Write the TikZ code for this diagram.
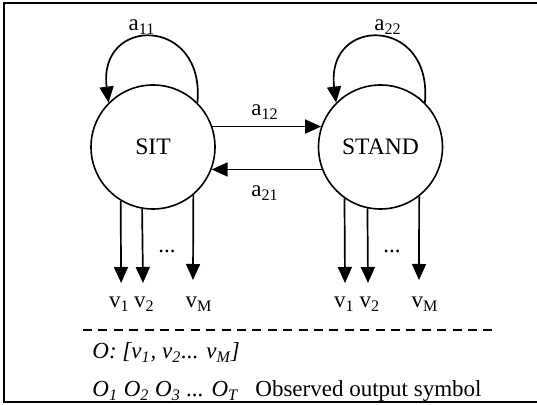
\documentclass[tikz,border=0pt]{standalone}
\usepackage{fontspec}
\setmainfont{Liberation Serif}
\usetikzlibrary{arrows.meta}
\begin{document}
\begin{tikzpicture}[x=0.5pt,y=-0.5pt,
  state/.style={circle,draw,line width=0.8pt,minimum size=62pt,inner sep=0pt,font=\fontsize{11.8}{13}\selectfont},
  lbl/.style={font=\fontsize{11.5}{13}\selectfont,inner sep=0pt},
  arr/.style={line width=0.85pt,-{Triangle[length=8pt,width=7pt]}},
  frame/.style={line width=1pt},
  sep/.style={line width=0.65pt,dash pattern=on 4.5pt off 3.2pt}]
\useasboundingbox (0,0) rectangle (537,405);
\draw[frame] (540,3) -- (4,3) -- (4,402) -- (540,402);

\node[state] (sit) at (153,147) {SIT};
\node[state] (stand) at (380.5,147) {STAND};

% self loops
\draw[arr] (sit.45) .. controls +(8,-87) and +(-11,-87) .. (sit.135);
\draw[arr] (stand.45) .. controls +(8,-87) and +(-11,-87) .. (stand.135);
\node[lbl] (a11) at (142,27) {a\textsubscript{11}};
\node[lbl] (a22) at (388,27) {a\textsubscript{22}};

% transitions
\draw[arr] (sit.19) -- (stand.161);
\draw[arr] (stand.201) -- (sit.339);
\node[lbl] (a12) at (265,112) {a\textsubscript{12}};
\node[lbl] (a21) at (265,193) {a\textsubscript{21}};

% outputs of SIT
\coordinate (s1) at (121.1,283);
\coordinate (s2) at (143,283);
\coordinate (s3) at (193,280);
\draw[arr] (sit.239) -- (s1);
\draw[arr] (sit.260.7) -- (s2);
\draw[arr] (sit.310.2) -- (s3);
\node[lbl,anchor=base] (sv1) at (119.5,308) {v\textsubscript{1}};
\node[lbl,anchor=base] (sv2) at (144.5,308) {v\textsubscript{2}};
\node[lbl,anchor=base] (svm) at (199,308) {v\textsubscript{M}};
\node[lbl,anchor=base] (sdots) at (167,253) {...};

% outputs of STAND
\coordinate (t1) at (345,283);
\coordinate (t2) at (368,283);
\coordinate (t3) at (419,280);
\draw[arr] (stand.235.1) -- (t1);
\draw[arr] (stand.258.4) -- (t2);
\draw[arr] (stand.308.4) -- (t3);
\node[lbl,anchor=base] (tv1) at (344.5,308) {v\textsubscript{1}};
\node[lbl,anchor=base] (tv2) at (370,308) {v\textsubscript{2}};
\node[lbl,anchor=base] (tvm) at (425,308) {v\textsubscript{M}};
\node[lbl,anchor=base] (tdots) at (392,253) {...};

% separator and legend
\coordinate (d1) at (83,330);
\coordinate (d2) at (498,330);
\draw[sep] (d1) -- (d2);
\node[lbl,anchor=base west] (olist) at (92,359) {\itshape O: [v\textsubscript{1}, v\textsubscript{2}... v\textsubscript{M}]};
\node[lbl,anchor=base west] (oseq) at (92,397) {\itshape O\textsubscript{1} O\textsubscript{2} O\textsubscript{3} ... O\textsubscript{T}};
\node[lbl,anchor=base west] (obs) at (255,397) {Observed output symbol};
\end{tikzpicture}
\end{document}
